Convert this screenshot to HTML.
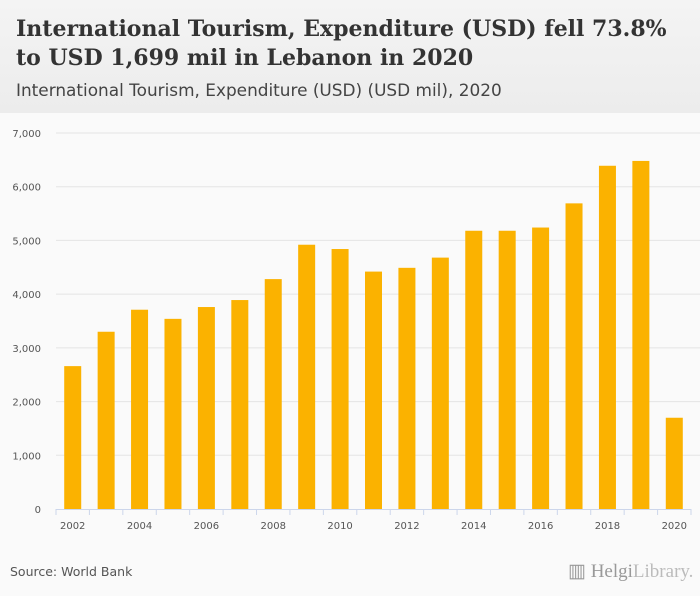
<!DOCTYPE html>
<html><head><meta charset="utf-8"><style>
body{margin:0;width:700px;height:596px;background:#fafafa;font-family:"DejaVu Sans",sans-serif;overflow:hidden}
#hdr{position:absolute;left:0;top:0;width:700px;height:113px;background:linear-gradient(#f4f4f4,#ececec)}
#t{position:absolute;left:16px;top:15px;font:bold 22px/29px "DejaVu Serif",serif;color:#333}
#s{position:absolute;left:16px;top:80px;font:16.9px "DejaVu Sans",sans-serif;color:#444}
#src{position:absolute;left:10px;top:564px;font:12.5px "DejaVu Sans",sans-serif;color:#555}
#logo{position:absolute;left:568px;top:560px;font:19px "Liberation Serif",serif;color:#999}
</style></head><body>
<div id="hdr">
<div id="t">International Tourism, Expenditure (USD) fell 73.8%<br>to USD 1,699 mil in Lebanon in 2020</div>
<div id="s">International Tourism, Expenditure (USD) (USD mil), 2020</div>
</div>
<svg id="c" width="700" height="596" style="position:absolute;left:0;top:0"></svg>
<div id="src">Source: World Bank</div>
<div id="logo">▥ Helgi<span style="color:#bbb">Library.</span></div>
<script>
const years=["2002","2003","2004","2005","2006","2007","2008","2009","2010","2011","2012","2013","2014","2015","2016","2017","2018","2019","2020"];
const values=[2660,3300,3710,3540,3760,3890,4280,4920,4840,4420,4490,4680,5180,5180,5240,5690,6390,6480,1699];
const yTicks=[0,1000,2000,3000,4000,5000,6000,7000];
const NS="http://www.w3.org/2000/svg",svg=document.getElementById('c');
const x0=56,x1=691,y0=509,yTop=133,ymax=7000;
const bw=(x1-x0)/years.length;
const ys=v=>y0-(v/ymax)*(y0-yTop);
function mk(t,a){const e=document.createElementNS(NS,t);for(const k in a)e.setAttribute(k,a[k]);svg.appendChild(e);return e;}
yTicks.forEach(v=>{
 if(v>0){const g=mk('line',{x1:x0,x2:700,y1:ys(v),y2:ys(v),stroke:'#e4e4e4'});
 
 }
 const t=mk('text',{x:41,y:ys(v)+4,'text-anchor':'end','font-size':'10','fill':'#555','font-family':'DejaVu Sans'});
 t.textContent=v.toLocaleString('en-US');
 
 
});
values.forEach((v,i)=>{
 const cx=x0+bw*(i+0.5);
 const r=mk('rect',{x:cx-8.5,y:ys(v),width:17,height:y0-ys(v),fill:'#fbb200'});
 
 
 if(i%2==0){const t=mk('text',{x:cx,y:529,'text-anchor':'middle','font-size':'10','fill':'#555','font-family':'DejaVu Sans'});
 t.textContent=years[i];
 
 }
});
for(let i=0;i<=years.length;i++){const l=mk('line',{x1:x0+bw*i,x2:x0+bw*i,y1:y0,y2:y0+6,stroke:'#ccd6eb'});
 
 }
const ax=mk('line',{x1:x0,x2:x1,y1:y0+0.5,y2:y0+0.5,stroke:'#ccd6eb'});


</script>
</body></html>
